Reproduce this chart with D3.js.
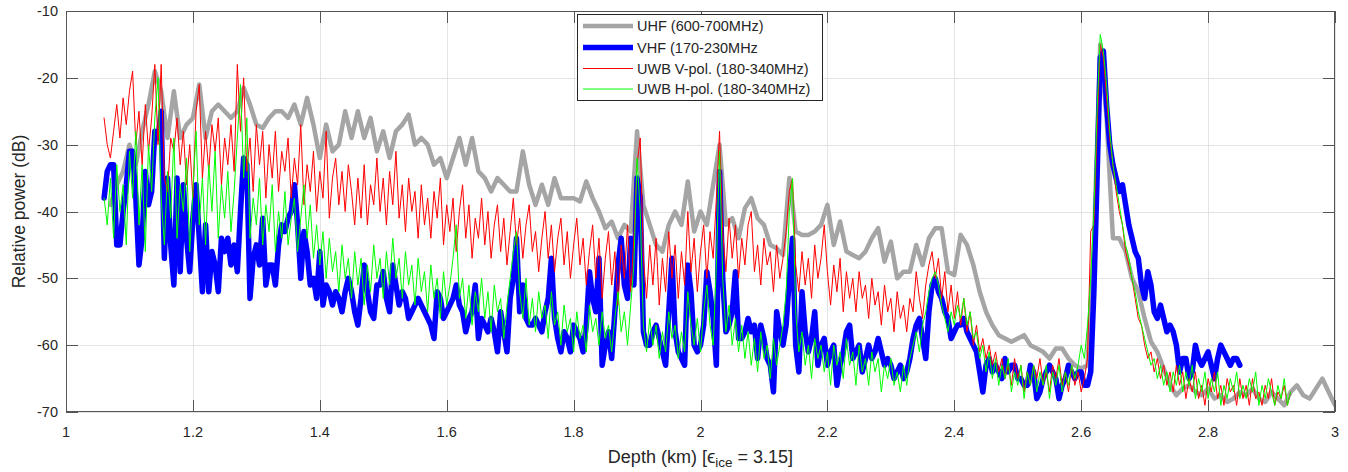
<!DOCTYPE html>
<html><head><meta charset="utf-8">
<script src="https://cdn.jsdelivr.net/npm/d3@7"></script>
<style>
body{margin:0;background:#fff}
text{font-family:Arial,"Liberation Sans",sans-serif;fill:#262626}
</style>
</head><body>
<svg id="c" width="1348" height="472"></svg>
<script>
// ---------- data ----------
const xTicks = [1, 1.2, 1.4, 1.6, 1.8, 2, 2.2, 2.4, 2.6, 2.8, 3];
const xTickLabels = ["1", "1.2", "1.4", "1.6", "1.8", "2", "2.2", "2.4", "2.6", "2.8", "3"];
const yTicks = [-70, -60, -50, -40, -30, -20, -10];
const yTickLabels = ["-70", "-60", "-50", "-40", "-30", "-20", "-10"];
const seriesNames = ["UHF (600-700MHz)", "VHF (170-230MHz", "UWB V-pol. (180-340MHz)", "UWB H-pol. (180-340MHz)"];

// UHF: depth 1.07 .. 3.00 every 0.01 km
const uhfStart = 1.07, uhfStep = 0.01;
const uhf = [
-39,-36,-34,-30,-33,-28,-24,-19,-22,-29,
-22,-29,-27,-26,-21,-29,-25,-24,-25,-26,
-25,-21.5,-24,-27,-27.5,-26,-25,-25,-26,-24,
-27,-23,-27,-32,-27,-31,-30,-25,-29,-25,
-29,-26,-31,-28,-32,-28,-27,-25.5,-30,-29,
-30,-33,-32,-35,-32,-29,-33,-29,-34,-35,
-37,-35,-36,-37,-37,-31,-36,-39,-36,-39,
-35,-38,-38,-38,-38.5,-35.5,-38,-40,-42.5,-41.5,
-44,-42,-43,-28,-39,-42,-45,-46,-42,-40,
-42,-35.5,-43,-40,-42,-36,-30,-42,-41,-44,
-39.5,-38,-41,-42,-45,-45.5,-46.5,-35,-43,-43.5,
-43.5,-43,-42,-39,-45,-41.5,-46,-46.5,-47,-46,
-44,-42.5,-47.5,-44.5,-50,-49,-49,-45,-48,-44,
-42.5,-42.5,-49,-49.5,-43.5,-45,-48,-52,-55,-57,
-58.5,-59,-59.5,-59,-58.5,-60,-60.5,-61,-62,-60.5,
-60.5,-62,-63,-63.5,-63,-45,-15,-26,-44,-44,
-46,-50,-52,-56,-59.5,-61,-63.5,-66,-67.5,-66.5,
-66,-67,-67.5,-66.5,-68,-67.5,-68.5,-68,-67,-67.5,
-66.5,-68,-68.5,-67,-68,-69,-67,-66,-67.5,-68,
-66.5,-65,-67,-69
];

// VHF: depth 1.06 .. 2.85 every 0.005 km
const vhfStart = 1.06, vhfStep = 0.005;
const vhf = [
-38,-34,-33,-33,-45,-45,-40,-36,-31,-31,
-38,-48,-44,-34,-39,-37,-28,-29,-25,-47,
-35,-45,-51,-35,-49,-36,-44,-49,-41,-36,
-44,-52,-42,-52,-46,-48,-52,-44,-46,-44,
-48,-45,-49,-40,-32,-33,-53,-47,-45,-48,
-41,-51,-48,-48,-51,-45,-42,-43,-41,-40,
-36,-42,-50,-43,-46,-51,-50,-53,-46,-54,
-51,-52,-54,-52,-53,-55,-52,-50,-52,-55,
-57,-53,-48,-52,-55,-56,-51,-51,-49,-53,
-55,-48,-51,-54,-52,-53,-56,-55,-54,-53,
-54,-55,-56,-57,-59,-52,-53,-56,-55,-54,
-53,-51,-54,-55,-58,-56,-55,-51,-59,-56,
-57,-58,-56,-58,-61,-55,-58,-61,-53,-50,
-44,-55,-51,-56,-57,-57,-56,-57,-58,-55,
-53,-47,-56,-59,-61,-58,-59,-61,-57,-58,
-59,-61,-57,-49,-53,-55,-47,-63,-60,-58,
-62,-55,-48,-44,-51,-53,-44,-51,-35,-38,
-58,-60,-60,-58,-57,-59,-61,-63,-55,-47,
-58,-61,-62,-63,-48,-52,-60,-61,-60,-57,
-49,-52,-56,-63,-34,-50,-58,-57,-55,-49,
-59,-59,-58,-56,-58,-57,-62,-57,-59,-62,
-63,-67,-55,-58,-60,-57,-50,-44,-60,-64,
-52,-58,-61,-59,-55,-63,-60,-59,-63,-61,
-60,-66,-63,-61,-58,-57,-62,-61,-60,-64,
-62,-60,-62,-61,-59,-61,-63,-62,-63,-65,
-64,-63,-65,-64,-62,-59,-57,-56,-59,-62,
-55,-51,-50,-52,-53,-55,-56,-59,-58,-57,
-57,-56,-58,-59,-60,-61,-64,-67,-63,-62,
-64,-63,-64,-65,-62,-64,-63,-63,-65,-65,
-66,-66,-63,-64,-68,-67,-65,-64,-63,-64,
-65,-68,-66,-65,-63,-64,-65,-64,-64,-66,
-66,-64,-52,-35,-17,-16,-24,-30,-33,-35,
-37,-36,-39,-42,-44,-46,-47,-51,-53,-49,
-51,-55,-56,-54,-56,-58,-57,-58,-60,-64,
-62,-62,-65,-64,-60,-62,-63,-62,-61,-63,
-65,-62,-60,-61,-62,-63,-62,-62,-63
];

// UWB V-pol: depth 1.06 .. 2.93 every 0.005 km
const uwbVStart = 1.06, uwbVStep = 0.005;
const uwbV = [
-26,-30,-32,-28,-24,-29,-23,-27,-22,-19,-30,-25,-33,-24,-31,-26,-18,-30,-18,-35,
-37,-29,-31,-26,-33,-28,-36,-30,-38,-25,-21,-35,-28,-34,-27,-31,-26,-36,-29,-33,
-27,-34,-18,-28,-20,-34,-29,-37,-27,-33,-28,-38,-30,-35,-28,-37,-31,-34,-29,-38,
-32,-36,-27,-39,-33,-37,-31,-40,-34,-38,-28,-41,-35,-32,-39,-34,-40,-33,-37,-42,
-35,-41,-33,-42,-36,-39,-32,-40,-35,-42,-34,-39,-31,-41,-36,-43,-35,-40,-37,-44,
-36,-42,-38,-44,-37,-41,-35,-45,-39,-43,-38,-46,-40,-36,-44,-39,-47,-41,-44,-38,
-45,-40,-47,-42,-39,-46,-41,-48,-43,-38,-45,-41,-47,-42,-39,-46,-43,-49,-44,-40,
-47,-42,-49,-44,-41,-48,-43,-50,-45,-41,-48,-44,-51,-46,-42,-50,-44,-53,-47,-43,
-51,-46,-54,-45,-50,-42,-52,-44,-33,-29,-47,-53,-45,-51,-44,-54,-47,-52,-43,-50,
-45,-53,-46,-51,-40,-49,-44,-52,-46,-42,-50,-43,-47,-38,-28,-43,-49,-41,-47,-42,
-50,-44,-48,-42,-40,-49,-45,-51,-44,-48,-46,-52,-45,-50,-47,-43,-37,-35,-48,-52,
-46,-51,-47,-53,-45,-50,-47,-42,-49,-54,-48,-52,-47,-55,-49,-53,-50,-55,-49,-53,
-51,-56,-50,-54,-52,-57,-51,-55,-53,-58,-52,-56,-54,-58,-53,-55,-49,-53,-56,-51,
-48,-46,-50,-47,-53,-49,-55,-51,-56,-52,-57,-53,-58,-55,-60,-57,-61,-59,-62,-60,
-63,-61,-64,-62,-65,-63,-66,-62,-65,-63,-67,-64,-66,-63,-65,-62,-66,-64,-67,-63,
-65,-62,-66,-64,-67,-63,-66,-64,-67,-65,-62,-43,-42,-28,-15,-17,-23,-29,-33,-37,
-40,-42,-46,-48,-50,-53,-56,-57,-60,-62,-61,-64,-62,-65,-63,-66,-64,-67,-63,-66,
-64,-68,-65,-67,-64,-68,-66,-69,-65,-67,-64,-68,-66,-69,-65,-67,-66,-69,-65,-68,
-66,-69,-65,-68,-67,-69,-66,-68,-65,-69,-67,-68,-66,-69,-67
];

// UWB H-pol: depth 1.06 .. 2.93 every 0.005 km
const uwbHStart = 1.06, uwbHStep = 0.005;
const uwbH = [
-38,-42,-35,-44,-33,-40,-36,-45,-31,-38,-28,-42,-33,-46,-30,-37,-26,-20,-38,-45,
-34,-41,-29,-44,-36,-40,-32,-46,-37,-28,-42,-35,-45,-33,-40,-31,-44,-36,-41,-34,
-43,-37,-29,-21,-35,-26,-44,-38,-42,-35,-45,-39,-43,-36,-46,-40,-44,-37,-45,-41,
-38,-46,-41,-36,-44,-39,-47,-42,-48,-43,-50,-44,-49,-46,-52,-45,-50,-47,-53,-46,
-51,-47,-54,-48,-52,-45,-50,-47,-53,-46,-51,-44,-50,-47,-53,-46,-51,-48,-54,-47,
-52,-49,-55,-48,-53,-50,-56,-49,-54,-51,-47,-42,-53,-50,-56,-51,-57,-52,-55,-50,
-56,-52,-58,-51,-55,-53,-59,-54,-50,-46,-43,-52,-56,-50,-57,-53,-58,-52,-56,-54,
-59,-52,-57,-55,-60,-54,-58,-56,-61,-55,-59,-57,-61,-54,-58,-56,-60,-55,-59,-57,
-61,-56,-52,-58,-55,-60,-54,-48,-32,-40,-57,-61,-56,-60,-57,-62,-58,-61,-55,-59,
-57,-62,-58,-61,-52,-57,-60,-56,-61,-55,-51,-57,-60,-48,-31,-50,-58,-54,-60,-56,
-61,-57,-62,-58,-63,-59,-64,-58,-62,-60,-65,-59,-63,-60,-57,-52,-40,-35,-55,-61,
-58,-63,-60,-65,-59,-62,-60,-64,-61,-66,-60,-63,-61,-65,-59,-63,-61,-66,-60,-64,
-62,-66,-61,-64,-62,-67,-63,-65,-62,-66,-64,-67,-63,-66,-62,-60,-58,-61,-57,-55,
-52,-50,-49,-51,-54,-56,-58,-55,-57,-54,-56,-53,-57,-55,-59,-58,-62,-60,-64,-61,
-65,-62,-66,-63,-65,-62,-67,-64,-66,-63,-68,-64,-66,-63,-67,-64,-66,-63,-68,-64,
-66,-63,-67,-64,-66,-63,-65,-63,-60,-62,-57,-50,-40,-25,-13.5,-16,-21,-28,-33,-36,
-39,-42,-45,-47,-50,-52,-55,-57,-59,-61,-63,-62,-65,-63,-66,-64,-67,-64,-66,-63,
-67,-64,-66,-63,-68,-65,-67,-64,-68,-65,-67,-64,-69,-66,-68,-65,-67,-64,-68,-66,
-68,-65,-67,-64,-69,-66,-68,-65,-67,-69,-66,-68,-65,-69,-67
];

// ---------- chart ----------
const W = 1348, H = 472;
const L = 66, R = 1335, T = 11, B = 412;
const svg = d3.select("#c");
const x = d3.scaleLinear().domain([1, 3]).range([L, R]);
const y = d3.scaleLinear().domain([-70, -10]).range([B, T]);

svg.append("defs").append("clipPath").attr("id", "clip")
  .append("rect").attr("x", L).attr("y", T).attr("width", R - L).attr("height", B - T);

// grid
const grid = svg.append("g").attr("stroke", "#e3e3e3").attr("stroke-width", 1);
grid.selectAll("line.gx").data(xTicks).join("line")
  .attr("x1", d => Math.round(x(d)) + 0.5).attr("x2", d => Math.round(x(d)) + 0.5)
  .attr("y1", T).attr("y2", B);
grid.selectAll("line.gy").data(yTicks).join("line")
  .attr("y1", d => Math.round(y(d)) + 0.5).attr("y2", d => Math.round(y(d)) + 0.5)
  .attr("x1", L).attr("x2", R);

// series
function pts(start, step, vals) { return vals.map((v, i) => [start + i * step, v]); }
const line = d3.line().x(d => x(d[0])).y(d => y(d[1]));
const series = [
  { data: pts(uhfStart, uhfStep, uhf), color: "#a5a5a5", w: 4.5 },
  { data: pts(vhfStart, vhfStep, vhf), color: "#0000ff", w: 5.5 },
  { data: pts(uwbVStart, uwbVStep, uwbV), color: "#ff0000", w: 1 },
  { data: pts(uwbHStart, uwbHStep, uwbH), color: "#00ff00", w: 1 }
];
const plot = svg.append("g").attr("clip-path", "url(#clip)");
series.forEach(s => {
  plot.append("path").attr("d", line(s.data)).attr("fill", "none")
    .attr("stroke", s.color).attr("stroke-width", s.w)
    .attr("stroke-linejoin", "round").attr("stroke-linecap", "round");
});

// axes box + ticks
const ax = svg.append("g").attr("stroke", "#555").attr("stroke-width", 1);
ax.append("rect").attr("x", L + 0.5).attr("y", T + 0.5).attr("width", R - L - 1).attr("height", B - T - 1).attr("fill", "none");
const tl = 12;
xTicks.forEach(t => {
  const px = Math.round(x(t)) + 0.5;
  ax.append("line").attr("x1", px).attr("x2", px).attr("y1", B).attr("y2", B - tl);
  ax.append("line").attr("x1", px).attr("x2", px).attr("y1", T).attr("y2", T + tl);
});
yTicks.forEach(t => {
  const py = Math.round(y(t)) + 0.5;
  ax.append("line").attr("y1", py).attr("y2", py).attr("x1", L).attr("x2", L + tl);
  ax.append("line").attr("y1", py).attr("y2", py).attr("x1", R).attr("x2", R - tl);
});

// tick labels
svg.append("g").selectAll("text").data(xTicks).join("text")
  .attr("x", d => x(d)).attr("y", 437).attr("text-anchor", "middle")
  .attr("font-size", 14.5).text((d, i) => xTickLabels[i]);
svg.append("g").selectAll("text").data(yTicks).join("text")
  .attr("x", 58).attr("y", d => y(d) + 5).attr("text-anchor", "end")
  .attr("font-size", 14.5).text((d, i) => yTickLabels[i]);

// axis labels
const xl = svg.append("text").attr("x", (L + R) / 2).attr("y", 463).attr("text-anchor", "middle").attr("font-size", 18);
xl.append("tspan").text("Depth (km) [");
xl.append("tspan").attr("font-size", 19).text("\u03F5");
xl.append("tspan").attr("font-size", 13.5).attr("dy", 4).text("ice");
xl.append("tspan").attr("dy", -4).text(" = 3.15]");
svg.append("text").attr("transform", `translate(25,${(T + B) / 2}) rotate(-90)`)
  .attr("text-anchor", "middle").attr("font-size", 17.5).text("Relative power (dB)");

// legend
const lg = svg.append("g");
lg.append("rect").attr("x", 577.5).attr("y", 14.5).attr("width", 245).attr("height", 86)
  .attr("fill", "#fff").attr("stroke", "#262626").attr("stroke-width", 1);
const rowsY = [26, 47.5, 68.5, 89];
series.forEach((s, i) => {
  lg.append("line").attr("x1", 583).attr("x2", 633).attr("y1", rowsY[i]).attr("y2", rowsY[i])
    .attr("stroke", s.color).attr("stroke-width", s.w);
  lg.append("text").attr("x", 637).attr("y", rowsY[i] + 5).attr("font-size", 14.5).text(seriesNames[i]);
});
</script>
</body></html>
